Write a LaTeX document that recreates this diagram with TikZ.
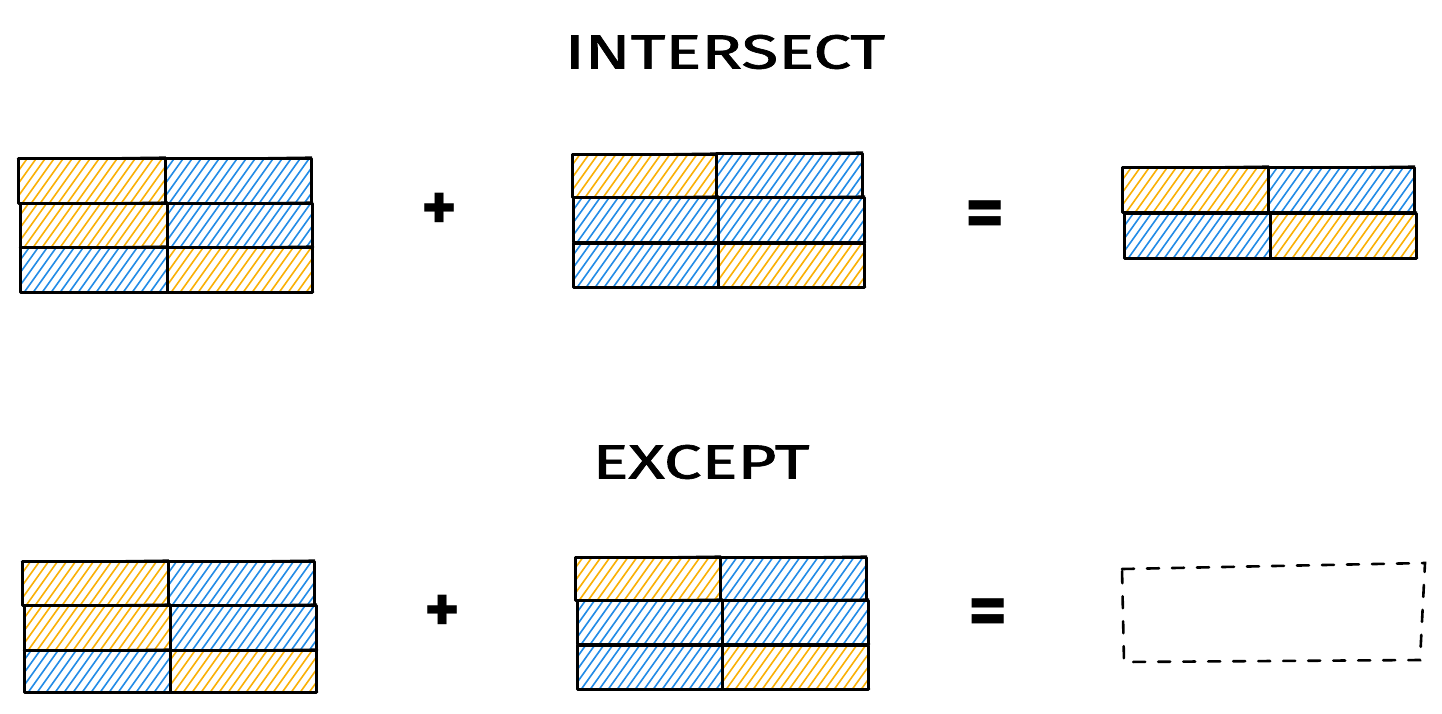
\documentclass[tikz,border=0pt]{standalone}
\usepackage{fontspec}
\setmainfont{Fira Sans}
\newfontfamily\titlefont[FakeBold=1.3]{Fira Sans}
\definecolor{hOrange}{HTML}{FAB005}
\definecolor{hBlue}{HTML}{228BE6}
\tikzset{
  hatch/.style={line width=1.6pt, line cap=round},
  cellborder/.style={draw=black, line width=3pt, line join=round},
  title/.style={font=\titlefont\fontsize{48}{48}\selectfont, inner sep=0pt},
  opsign/.style={font=\fontsize{68}{68}\selectfont\bfseries, inner sep=0pt},
  eqsign/.style={font=\fontsize{76}{76}\selectfont\bfseries, inner sep=0pt},
  emptybox/.style={draw=black, line width=2.6pt, dash pattern=on 12pt off 13pt, line cap=round}
}
\newcommand\hcell[5]{%
  \begin{scope}
    \clip (#1,#2) rectangle (#3,#4);
    \pgfmathtruncatemacro\nn{(#3-#1+60)/9}
    \foreach \i in {0,...,\nn} \draw[hatch,#5] ({#1-60+\i*9},{#4+2}) -- ++(50,-70);
  \end{scope}
  \draw[cellborder] (#1,#2) rectangle (#3,#4);
  \draw[black, line width=1.2pt] ({#1-1},{#2+1}) -- ({#3+1},{#2-1});
  \draw[black, line width=1.2pt] ({#1+1},{#4+1}) -- ({#3+2},{#4});
}
\begin{document}
\begin{tikzpicture}[x=1pt,y=-1pt]
\useasboundingbox (0,0) rectangle (1442,713);
% INTERSECT
\node[title] (t1) at (725,52) {\scalebox{1.40}[1]{INTERSECT}};
% table 1
\hcell{18}{158}{165}{203}{hOrange}
\hcell{165}{158}{311}{203}{hBlue}
\hcell{20}{203}{167}{247}{hOrange}
\hcell{167}{203}{312}{247}{hBlue}
\hcell{20}{247}{167}{292}{hBlue}
\hcell{167}{247}{312}{292}{hOrange}
\node[opsign] (p1) at (440,212) {+};
% table 2
\hcell{572}{154}{716}{197}{hOrange}
\hcell{716}{153}{862}{197}{hBlue}
\hcell{573}{197}{718}{242}{hBlue}
\hcell{718}{197}{864}{242}{hBlue}
\hcell{573}{243}{718}{287}{hBlue}
\hcell{718}{243}{864}{287}{hOrange}
\node[eqsign] (e1) at (985,220) {=};
% table 3
\hcell{1122}{167}{1268}{212}{hOrange}
\hcell{1268}{167}{1414}{212}{hBlue}
\hcell{1124}{213}{1270}{258}{hBlue}
\hcell{1270}{213}{1416}{258}{hOrange}
% EXCEPT
\node[title] (t2) at (701,462) {\scalebox{1.40}[1]{EXCEPT}};
% table 4
\hcell{22}{561}{168}{605}{hOrange}
\hcell{168}{561}{314}{605}{hBlue}
\hcell{24}{605}{170}{650}{hOrange}
\hcell{170}{605}{316}{650}{hBlue}
\hcell{24}{650}{170}{692}{hBlue}
\hcell{170}{650}{316}{692}{hOrange}
\node[opsign] (p2) at (443,614) {+};
% table 5
\hcell{575}{557}{720}{600}{hOrange}
\hcell{720}{557}{866}{600}{hBlue}
\hcell{577}{600}{722}{644}{hBlue}
\hcell{722}{600}{868}{644}{hBlue}
\hcell{577}{645}{722}{689}{hBlue}
\hcell{722}{645}{868}{689}{hOrange}
\node[eqsign] (e2) at (988,618) {=};
% empty result
\coordinate (r1) at (1122,569);
\coordinate (r2) at (1425,563);
\coordinate (r3) at (1420,660);
\coordinate (r4) at (1124,662);
\draw[emptybox] (r1) -- (r2) -- (r3) -- (r4) -- cycle;
\end{tikzpicture}
\end{document}
